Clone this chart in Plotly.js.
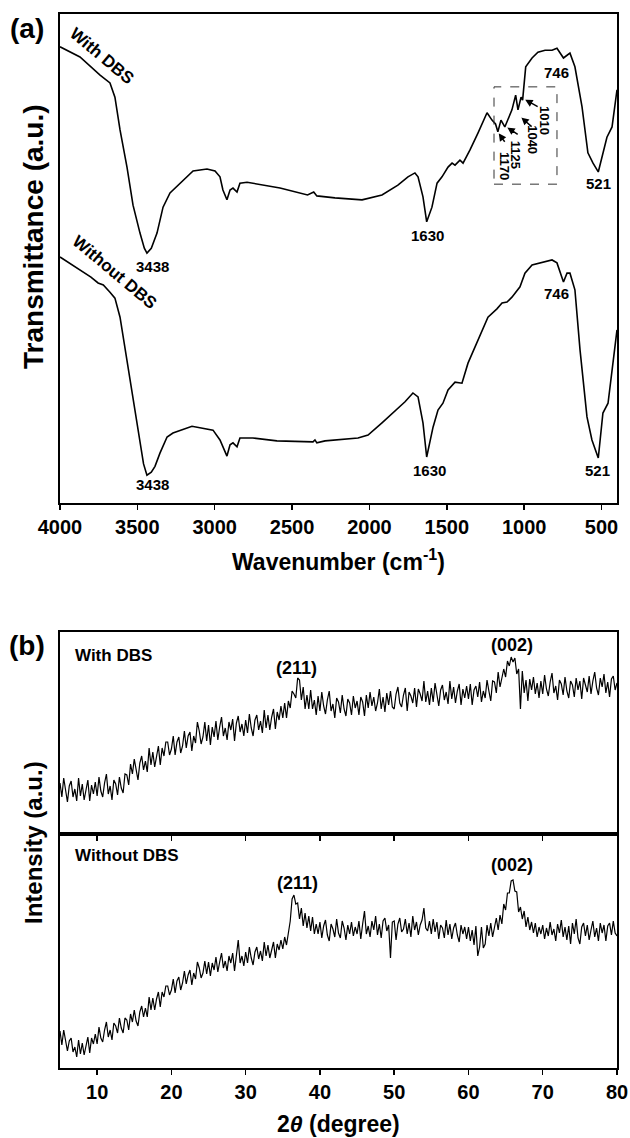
<!DOCTYPE html>
<html><head><meta charset="utf-8">
<script src="https://cdn.plot.ly/plotly-3.0.1.min.js"></script>
<style>html,body{margin:0;padding:0;background:#fff}#chart{width:630px;height:1138px}</style>
</head><body><div id="chart"></div>
<script>
// ---------- FTIR (a) ----------
const ftirWithWavenumber = [4000,3871,3741,3677,3645,3612,3567,3528,3483,3455,3438,3410,3373,3334,3289,3224,3140,3050,2998,2966,2947,2921,2901,2882,2856,2837,2791,2578,2400,2360,2340,2223,2048,1919,1816,1751,1706,1686,1654,1630,1596,1563,1531,1492,1466,1447,1415,1395,1350,1298,1240,1208,1185,1170,1150,1125,1079,1055,1040,1020,1010,990,949,911,865,820,788,746,723,704,672,626,588,555,521,491,465,432,400];
const ftirWithTrans = [93.3,91.2,87.5,85.9,83.0,76.3,68.7,60.9,55.2,52.1,51.1,52.1,55.2,60.5,63.4,65.4,67.9,68.3,67.9,66.7,64.0,62.0,64.0,64.4,63.6,65.4,65.6,64.4,63.0,63.6,62.8,62.4,62.0,63.0,65.0,66.7,67.5,66.7,62.6,57.5,60.5,65.4,66.7,68.7,69.5,69.1,70.1,69.5,72.2,75.7,79.8,78.3,77.5,75.9,78.3,76.9,80.4,83.4,80.4,83.0,82.4,89.2,91.0,92.2,92.6,92.6,93.0,91.0,91.6,92.0,89.2,81.0,71.6,69.5,67.7,71.6,74.8,76.9,84.5];
const ftirWithoutWavenumber = [4000,3871,3800,3754,3720,3677,3645,3612,3567,3528,3483,3460,3438,3410,3386,3354,3308,3270,3147,3011,2966,2921,2901,2882,2856,2837,2753,2598,2365,2352,2340,2287,2074,2009,1919,1770,1719,1686,1654,1630,1589,1557,1525,1492,1447,1402,1363,1298,1234,1176,1143,1111,1079,1027,995,949,865,820,788,746,723,704,672,639,594,562,521,491,458,426,400];
const ftirWithoutTrans = [50.3,47.6,46.2,45.0,44.6,43.1,41.9,38.0,29.2,21.1,12.3,8.0,5.7,6.3,7.5,10.2,13.5,14.3,15.7,14.9,12.9,9.6,11.9,12.3,11.5,13.3,13.3,12.7,12.5,12.9,12.3,12.7,13.3,13.9,16.4,20.7,22.5,21.7,16.4,9.4,15.5,19.0,20.4,23.1,24.7,24.5,28.6,33.3,38.0,39.7,40.9,41.1,42.1,44.2,47.0,48.7,49.3,49.7,49.1,45.2,47.0,47.0,43.6,31.3,17.6,12.9,9.2,18.4,20.4,29.2,35.4];
const ftirTicks = [4000,3500,3000,2500,2000,1500,1000,500];

// ---------- XRD (b) ----------
const twoThetaStart = 5;
const twoThetaStep = 0.25;
const xrdWithDBS = [
51,37,56,41,32,48,53,37,45,33,56,38,50,34,46,54,33,49,40,52,
38,57,43,37,51,60,40,48,34,54,50,39,57,46,41,60,59,49,70,60,
75,62,54,71,78,64,73,62,86,69,82,67,80,88,69,86,78,92,92,79,
85,98,79,92,97,81,88,103,86,98,102,83,98,91,112,103,90,97,112,93,
109,89,107,97,113,94,107,117,98,106,94,112,104,115,93,111,118,102,110,98,
114,101,120,106,98,114,119,104,113,101,124,106,119,104,117,125,105,122,114,128,
116,131,116,133,126,143,140,136,156,154,134,147,125,139,125,144,125,134,119,138,
123,142,128,120,134,143,123,130,116,136,132,121,139,125,118,135,131,119,138,126,
133,119,137,132,118,139,126,142,128,137,123,131,145,125,137,122,141,129,143,127,
125,140,147,131,127,139,146,123,142,138,131,146,127,145,140,133,153,132,143,129,
146,132,151,137,128,144,149,134,142,130,153,135,147,131,143,150,129,145,136,148,
135,150,129,144,148,137,152,132,143,136,154,143,133,153,152,141,162,147,157,165,
157,173,168,177,172,176,160,165,125,163,141,154,133,155,144,157,140,151,136,153,
140,159,145,138,152,161,141,148,134,154,150,139,157,143,136,153,149,137,156,144,
153,135,156,150,142,158,140,153,162,146,139,156,147,160,141,152,137,155,158,144,151];
const xrdWithoutDBS = [
37,23,38,25,17,27,30,16,21,11,28,14,25,13,23,31,15,30,24,34,
24,41,30,26,38,46,31,38,28,45,42,35,50,40,35,50,48,38,54,46,
58,47,42,56,62,51,60,51,71,58,70,58,69,76,61,76,71,82,82,73,
78,89,75,87,91,78,85,97,84,93,98,83,95,89,106,100,90,95,107,94,
106,92,105,98,111,96,106,115,100,107,97,112,105,115,97,112,128,105,112,102,
116,105,121,110,103,116,121,109,117,107,126,112,123,110,120,126,110,124,118,128,
119,131,123,138,147,169,173,164,165,149,160,142,155,140,152,137,151,134,144,134,
146,130,142,148,133,127,144,139,131,149,135,130,147,140,128,143,134,146,132,141,
134,147,129,144,157,134,142,131,147,138,152,133,144,130,147,150,137,143,110,146,
147,128,144,150,136,139,149,134,145,131,152,138,146,133,143,148,160,140,137,147,
134,149,136,146,129,143,140,130,148,133,144,129,140,145,133,126,143,134,141,129,
141,127,138,123,142,112,121,141,120,124,143,132,145,131,142,150,138,153,144,164,
158,175,175,187,188,177,176,156,161,149,157,141,151,138,146,135,145,131,141,134,
143,129,140,132,146,133,139,127,144,135,148,131,141,128,142,124,145,134,149,130,
124,141,145,132,143,128,138,147,131,140,127,145,135,143,127,142,145,133,147,135,132];
const xrdTicks = [10,20,30,40,50,60,70,80];

// ---------- layout helpers ----------
const W = 630, H = 1138, ML = 60, MR = 13;
const PW = W - ML - MR;
const pxX = p => (p - ML) / PW;
const pxY = p => 1 - p / H;
const FONT = 'Liberation Sans, Arial, Helvetica, sans-serif';

const traces = [
  {x: ftirWithWavenumber, y: ftirWithTrans, xaxis:'x', yaxis:'y', mode:'lines', line:{color:'#000', width:1.6}, hoverinfo:'skip'},
  {x: ftirWithoutWavenumber, y: ftirWithoutTrans, xaxis:'x', yaxis:'y', mode:'lines', line:{color:'#000', width:1.6}, hoverinfo:'skip'},
  {y: xrdWithDBS, x0: twoThetaStart, dx: twoThetaStep, xaxis:'x2', yaxis:'y2', mode:'lines', line:{color:'#000', width:1.2}, hoverinfo:'skip'},
  {y: xrdWithoutDBS, x0: twoThetaStart, dx: twoThetaStep, xaxis:'x3', yaxis:'y3', mode:'lines', line:{color:'#000', width:1.2}, hoverinfo:'skip'}
];

const frame = {showline:true, linecolor:'#000', linewidth:2, mirror:true, showgrid:false, zeroline:false};
const tickfont = {family:FONT, size:20, color:'#000', weight:'bold'};

// arrow shapes (pixel-sized, anchored at the band they point to)
function arrowShape(xa, ya, dx, dy) {
  const len = Math.hypot(dx, dy), ux = dx/len, uy = dy/len, nx = -uy, ny = ux;
  const hl = 5, hw = 2.6, bx = ux*hl, by = uy*hl;
  const f = v => v.toFixed(2);
  return {type:'path', xref:'x', yref:'y', xsizemode:'pixel', ysizemode:'pixel', xanchor:xa, yanchor:ya,
    path:`M0,0 L${f(bx+nx*hw)},${f(by+ny*hw)} L${f(bx-nx*hw)},${f(by-ny*hw)} Z M${f(bx)},${f(by)} L${f(dx)},${f(dy)}`,
    fillcolor:'#000', line:{color:'#000', width:1.5}};
}

const layout = {
  width: W, height: H,
  margin: {l:ML, r:MR, t:0, b:0, pad:0, autoexpand:false},
  paper_bgcolor:'#fff', plot_bgcolor:'#fff',
  showlegend:false,
  font:{family:FONT, color:'#000'},
  xaxis: Object.assign({}, frame, {domain:[0,1], anchor:'y', range:[4000,400], tickmode:'array', tickvals:ftirTicks,
    ticks:'outside', ticklen:5, tickwidth:1.5, tickcolor:'#000', tickfont:tickfont}),
  yaxis: Object.assign({}, frame, {domain:[pxY(503), pxY(14)], anchor:'x', range:[0,100], showticklabels:false, ticks:''}),
  xaxis2: Object.assign({}, frame, {domain:[0,1], anchor:'y2', range:[5,80], tickmode:'array', tickvals:[10,20,30,40,50,60,70],
    ticks:'outside', ticklen:5, tickwidth:1.5, tickcolor:'#000', showticklabels:false}),
  yaxis2: Object.assign({}, frame, {domain:[pxY(834), pxY(632)], anchor:'x2', range:[0,202], showticklabels:false, ticks:''}),
  xaxis3: Object.assign({}, frame, {domain:[0,1], anchor:'y3', range:[5,80], tickmode:'array', tickvals:xrdTicks,
    ticks:'outside', ticklen:5, tickwidth:1.5, tickcolor:'#000', tickfont:tickfont}),
  yaxis3: Object.assign({}, frame, {domain:[pxY(1068), pxY(834)], anchor:'x3', range:[0,234], showticklabels:false, ticks:''}),
  shapes: [
    {type:'rect', xref:'x', yref:'y', x0:1195, x1:788, y0:65.2, y1:85.1, line:{color:'#333', width:1, dash:'dash'}},
    arrowShape(1158, 75.3, 5, -7),
    arrowShape(1100, 76.6, 9, -6),
    arrowShape(1010, 78.6, 9, -8),
    arrowShape(984, 82.3, 11, -6)
  ],
  annotations: []
};

const A = layout.annotations;
function paperText(text, xp, yp, size, opts) {
  A.push(Object.assign({text:text, xref:'paper', yref:'paper', x:pxX(xp), y:pxY(yp), showarrow:false,
    font:{family:FONT, size:size, color:'#000'}, xanchor:'center', yanchor:'middle'}, opts||{}));
}
function dataText(text, x, y, size, opts) {
  A.push(Object.assign({text:text, xref:'x', yref:'y', x:x, y:y, showarrow:false,
    font:{family:FONT, size:size, color:'#000'}, xanchor:'center', yanchor:'middle'}, opts||{}));
}
// panel labels & titles
paperText('<b>(a)</b>', 27, 29, 28);
paperText('<b>(b)</b>', 27, 645, 28);
paperText('<b>Transmittance (a.u.)</b>', 33, 237, 28, {textangle:-90});
paperText('<b>Intensity (a.u.)</b>', 33, 843, 24, {textangle:-90});
paperText('<b>Wavenumber (cm<sup>-1</sup>)</b>', 338, 560, 23);
paperText('<b>2<i>θ</i> (degree)</b>', 338, 1124, 23);
// (a) curve labels
paperText('<b>With DBS</b>', 101, 56, 17, {textangle:40});
paperText('<b>Without DBS</b>', 115, 272, 17, {textangle:40});
// (a) peak labels
dataText('<b>3438</b>', 3399, 48.3, 15);
dataText('<b>3438</b>', 3399, 3.7, 15);
dataText('<b>1630</b>', 1622, 54.8, 15);
dataText('<b>1630</b>', 1609, 6.7, 15);
dataText('<b>746</b>', 788, 88.1, 15);
dataText('<b>746</b>', 794, 42.9, 15);
dataText('<b>521</b>', 517, 65.4, 15);
dataText('<b>521</b>', 523, 6.7, 15);
// rotated labels in the dashed box
dataText('<b>1170</b>', 1124, 68.9, 13, {textangle:90});
dataText('<b>1125</b>', 1059, 71.2, 13, {textangle:90});
dataText('<b>1040</b>', 943, 74.2, 13, {textangle:90});
dataText('<b>1010</b>', 865, 78.3, 13, {textangle:90});
// (b) labels
paperText('<b>With DBS</b>', 73, 656, 17, {xanchor:'left'});
paperText('<b>Without DBS</b>', 73, 855, 17, {xanchor:'left'});
paperText('<b>(211)</b>', 296, 668, 18);
paperText('<b>(002)</b>', 512, 645, 18);
paperText('<b>(211)</b>', 297, 883, 18);
paperText('<b>(002)</b>', 512, 865, 18);

Plotly.newPlot('chart', traces, layout, {staticPlot:true, displayModeBar:false});
</script></body></html>
